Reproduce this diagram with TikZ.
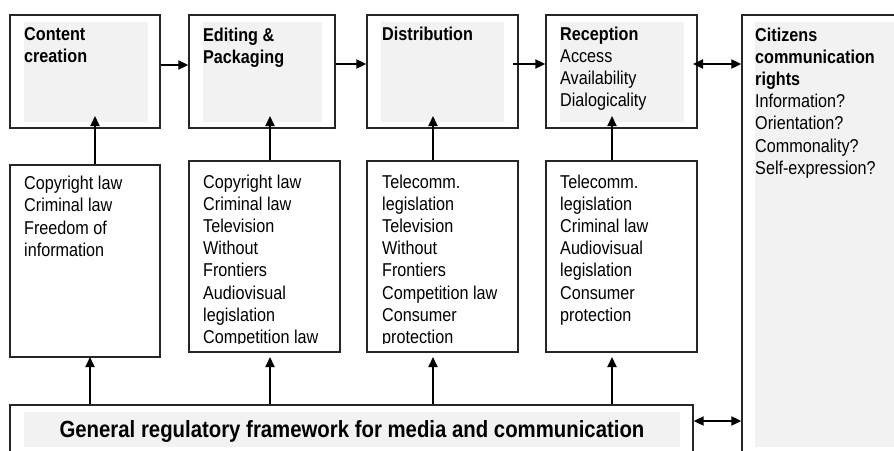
\documentclass[tikz,border=0pt]{standalone}
\usepackage{fontspec}
\setmainfont{Liberation Sans}[FakeStretch=0.87]
\usetikzlibrary{arrows.meta,fit}
\definecolor{bgray}{HTML}{F2F2F2}
\definecolor{edge}{HTML}{262626}
\tikzset{
  frame/.style={draw=edge, line width=1.3pt, inner sep=0pt, fill=white},
  shade/.style={fill=bgray, draw=none, inner sep=0pt},
  txt/.style={anchor=north west, inner sep=0pt, align=left, font=\fontsize{18.6}{22.2}\selectfont},
  arr/.style={line width=1.8pt, -{Triangle[length=10pt,width=9pt]}},
  darr/.style={line width=1.8pt, {Triangle[length=10pt,width=9pt]}-{Triangle[length=10pt,width=9pt]}},
}
\begin{document}
\begin{tikzpicture}[x=1pt,y=-1pt]
\useasboundingbox (0,0) rectangle (894,450);
\clip (0,0) rectangle (894,450);
% top boxes
\node[frame, fit={(10,15) (160,128)}] (t1) {};
\node[shade, fit={(24,22) (148,122)}] (g1) {};
\node[frame, fit={(189,15) (335,128)}] (t2) {};
\node[shade, fit={(203,22) (322,122)}] (g2) {};
\node[frame, fit={(367,15) (518,128)}] (t3) {};
\node[shade, fit={(381,22) (504,122)}] (g3) {};
\node[frame, fit={(546,15) (697,128)}] (t4) {};
\node[shade, fit={(560,22) (684,122)}] (g4) {};
\node[frame, fit={(742,15) (910,470)}] (t5) {};
\node[shade, fit={(755,22) (905,447)}] (g5) {};
% middle boxes
\node[frame, fit={(10,165) (160,357)}] (m1) {};
\node[frame, fit={(189,161) (340,352)}] (m2) {};
\node[frame, fit={(367,161) (518,352)}] (m3) {};
\node[frame, fit={(546,161) (697,352)}] (m4) {};
% bottom box
\node[frame, fit={(10,405) (693,470)}] (b) {};
\node[shade, fit={(24,412) (680,447)}] (gb) {};
% texts top
\node[txt, font=\fontsize{18.6}{22.2}\selectfont\bfseries] (x1) at (24,27.5) {Content\\creation};
\node[txt, font=\fontsize{18.6}{22.2}\selectfont\bfseries] (x2) at (203,27.5) {Editing \&\\Packaging};
\node[txt, font=\fontsize{18.6}{22.2}\selectfont\bfseries] (x3) at (382,26.5) {Distribution};
\node[txt] (x4) at (560,26.5) {\textbf{Reception}\\Access\\Availability\\Dialogicality};
\node[txt] (x5) at (755,27.5) {\textbf{Citizens}\\\textbf{communication}\\\textbf{rights}\\Information?\\Orientation?\\Commonality?\\Self-expression?};
% texts middle
\node[txt] (y1) at (24,176) {Copyright law\\Criminal law\\Freedom of\\information};
\begin{scope}
\clip (189,161) rectangle (518,343);
\node[txt] (y2) at (203,174.5) {Copyright law\\Criminal law\\Television\\Without\\Frontiers\\Audiovisual\\legislation\\Competition law};
\node[txt] (y3) at (382,174.5) {Telecomm.\\legislation\\Television\\Without\\Frontiers\\Competition law\\Consumer\\protection};
\end{scope}
\node[txt] (y4) at (560,174.5) {Telecomm.\\legislation\\Criminal law\\Audiovisual\\legislation\\Consumer\\protection};
% bottom text
\node[anchor=base, inner sep=0pt, font=\fontsize{23.4}{26}\selectfont\bfseries] (xb) at (352,437.5) {General regulatory framework for media and communication};
% coordinates
\coordinate (ya) at (0,65);
\coordinate (yb) at (0,64);
\coordinate (s34) at (513,64);
\coordinate (s45) at (693,64);
\coordinate (yc) at (0,421);
\coordinate (u1) at (95,116);
\coordinate (u2) at (270,116);
\coordinate (u3) at (433,116);
\coordinate (u4) at (612,116);
\coordinate (v1) at (90,357);
\coordinate (v2) at (270,357);
\coordinate (v3) at (433,357);
\coordinate (v4) at (612,357);
% arrows
\draw[arr] (t1.east |- ya) -- (t2.west |- ya);
\draw[arr] (t2.east |- yb) -- (t3.west |- yb);
\draw[arr] (s34) -- (t4.west |- s34);
\draw[darr] (s45) -- (t5.west |- s45);
\draw[darr] (b.east |- yc) -- (t5.west |- yc);
\draw[arr] (m1.north -| u1) -- (u1);
\draw[arr] (m2.north -| u2) -- (u2);
\draw[arr] (m3.north -| u3) -- (u3);
\draw[arr] (m4.north -| u4) -- (u4);
\draw[arr] (b.north -| v1) -- (v1);
\draw[arr] (b.north -| v2) -- (v2);
\draw[arr] (b.north -| v3) -- (v3);
\draw[arr] (b.north -| v4) -- (v4);
\end{tikzpicture}
\end{document}
